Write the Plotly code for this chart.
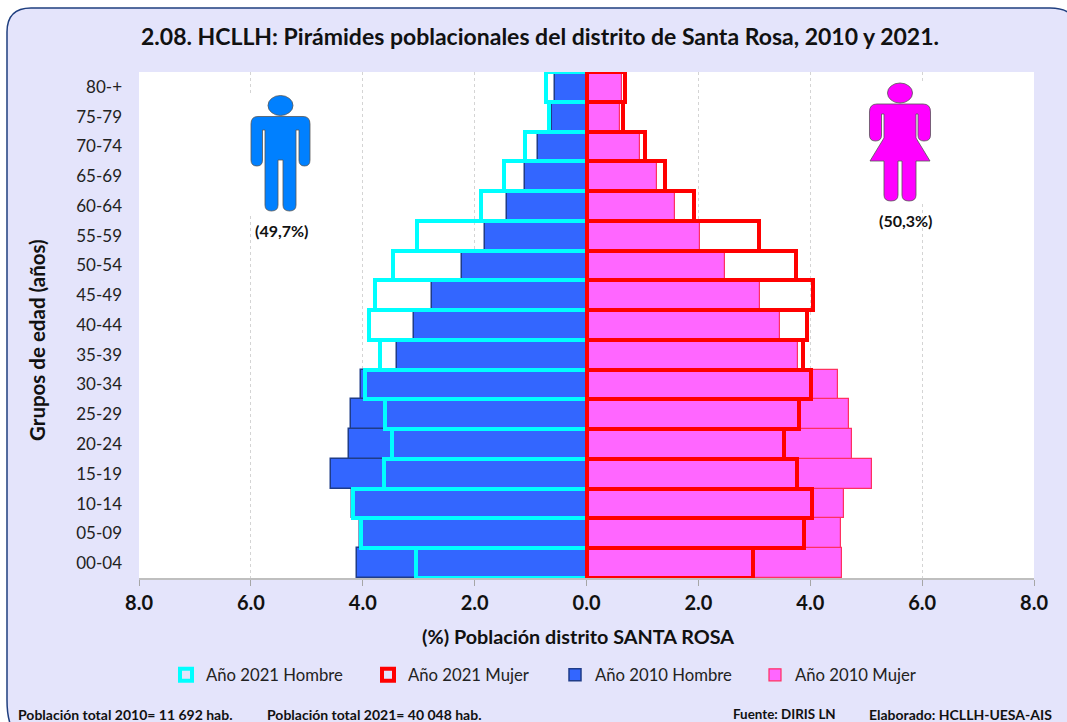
import re
import plotly.graph_objects as go

grupos = ["00-04","05-09","10-14","15-19","20-24","25-29","30-34","35-39","40-44",
          "45-49","50-54","55-59","60-64","65-69","70-74","75-79","80-+"]
h2010 = [4.10,4.05,4.19,4.57,4.25,4.21,4.03,3.39,3.08,2.76,2.23,1.81,1.42,1.10,0.87,0.62,0.56]
h2021 = [3.05,4.03,4.17,3.62,3.48,3.60,3.96,3.69,3.89,3.78,3.46,3.03,1.89,1.48,1.10,0.67,0.72]
m2010 = [4.57,4.55,4.60,5.11,4.75,4.69,4.50,3.78,3.46,3.10,2.48,2.03,1.58,1.26,0.96,0.60,0.63]
m2021 = [2.98,3.89,4.04,3.76,3.53,3.80,4.01,3.87,3.94,4.05,3.74,3.08,1.92,1.40,1.05,0.65,0.69]
tick_vals = [-8,-6,-4,-2,0,2,4,6,8]
tick_text = ["8.0","6.0","4.0","2.0","0.0","2.0","4.0","6.0","8.0"]

FONT = "Lato"
W, H = 1067, 722
L, R, T, B = 139, 1034, 72, 578

def fx(px): return (px - L) / (R - L)
def fy(py): return (B - py) / (B - T)

def conv(path):
    nums = {"i": 0}
    def rep(m):
        i = nums["i"]; nums["i"] += 1
        v = float(m.group(0))
        return f"{fx(v):.5f}" if i % 2 == 0 else f"{fy(v):.5f}"
    return re.sub(r"-?\d+\.?\d*", rep, path)

def neg(v): return [-a for a in v]

fig = go.Figure()
series = [
    ("Año 2010 Hombre", neg(h2010), "#3366FF", "#1F3C88", 1.5, "legend3"),
    ("Año 2010 Mujer", m2010, "#FF66FF", "#FF3060", 1.2, "legend4"),
    ("Año 2021 Hombre", neg(h2021), "rgba(0,0,0,0)", "#00FFFF", 4, "legend"),
    ("Año 2021 Mujer", m2021, "rgba(0,0,0,0)", "#FF0000", 4, "legend2"),
]
for name, vals, fill, line, w, lg in series:
    fig.add_trace(go.Bar(y=grupos, x=vals, orientation="h", name=name, legend=lg,
                         marker=dict(color=fill, line=dict(color=line, width=w))))

man = ("M 258 116.5 L 303 116.5 Q 310 116.5 310 124 L 310 160 Q 310 166 304.5 166 Q 299 166 299 160 "
       "L 299 130 L 296 130 L 296 205 Q 296 211 289.5 211 Q 283 211 283 205 L 283 160 L 278 160 "
       "L 278 205 Q 278 211 271.5 211 Q 265 211 265 205 L 265 130 L 262.5 130 L 262.5 160 "
       "Q 262.5 166 257 166 Q 251 166 251 160 L 251 124 Q 251 116.5 258 116.5 Z")
woman = ("M 877 104 L 923 104 Q 930.5 104 930.5 112 L 930.5 135 Q 930.5 141 924 141 Q 918 141 918 135 "
         "L 918 114 L 916 114 L 916 138 L 930 161 L 916 161 L 916 195 Q 916 201 909 201 Q 902 201 902 195 "
         "L 902 161 L 898 161 L 898 195 Q 898 201 891 201 Q 884 201 884 195 L 884 161 L 870 161 L 884 138 "
         "L 884 114 L 881.5 114 L 881.5 135 Q 881.5 141 875.5 141 Q 869.5 141 869.5 135 L 869.5 112 "
         "Q 869.5 104 877 104 Z")
panel = ("M 7 32 Q 7 8 31 8 L 1050 8 Q 1066 8 1072 16 L 1072 740 L 31 740 Q 7 740 7 700 Z")

def path(d, fill, line="rgba(0,0,0,0)", w=0, layer="above"):
    return dict(type="path", xref="paper", yref="paper", path=conv(d), fillcolor=fill,
                line=dict(color=line, width=w), layer=layer)
def rect(x0, y0, x1, y1, fill, layer="above"):
    return dict(type="rect", xref="paper", yref="paper", x0=fx(x0), x1=fx(x1), y0=fy(y0), y1=fy(y1),
                fillcolor=fill, line=dict(width=0), layer=layer)
def ell(cx, cy, rx, ry, fill):
    return dict(type="circle", xref="paper", yref="paper", x0=fx(cx-rx), x1=fx(cx+rx),
                y0=fy(cy+ry), y1=fy(cy-ry), fillcolor=fill, line=dict(color="#555555", width=0.8), layer="above")

shapes = [
    path(panel, "#E4E4FB", "#1F3F7F", 1.5, "below"),
    rect(L, T, R, B, "#FFFFFF", "below"),
    rect(240, 95, 320, 214, "#FFFFFF"),
    rect(915, 84, 930, 202, "#FFFFFF"),
    ell(280.5, 105.5, 12.5, 10, "#0080FF"),
    path(man, "#0080FF", "#555555", 0.8),
    ell(900, 93, 12.5, 10, "#FF00FF"),
    path(woman, "#FF00FF", "#555555", 0.8),
]

def ann(text, px, py, size, bold=True, angle=0, anchor="center", color="#111111"):
    return dict(text=f"<b>{text}</b>" if bold else text, xref="paper", yref="paper", x=fx(px), y=fy(py),
                xanchor=anchor, yanchor="middle", showarrow=False, textangle=angle,
                font=dict(family=FONT, size=size, color=color))

annotations = [
    ann("2.08. HCLLH: Pirámides poblacionales del distrito de Santa Rosa, 2010 y 2021.", 540, 36, 23),
    ann("(%) Población distrito SANTA ROSA", 578, 636, 19.8),
    ann("Grupos de edad (años)", 37, 340, 20.5, angle=-90),
    ann("(49,7%)", 281, 231, 16),
    ann("(50,3%)", 905, 221, 16),
    ann("Población total 2010= 11 692 hab.", 16, 714, 14, anchor="left"),
    ann("Población total 2021= 40 048 hab.", 265, 714, 14, anchor="left"),
    ann("Fuente: DIRIS LN", 731, 714, 13.4, anchor="left"),
    ann("Elaborado: HCLLH-UESA-AIS", 867, 714, 14, anchor="left"),
]

def lg(px):
    return dict(orientation="h", x=fx(px), y=fy(675), xanchor="left", yanchor="middle",
                bgcolor="rgba(0,0,0,0)", itemwidth=30, itemclick=False, itemdoubleclick=False,
                font=dict(family=FONT, size=16.7, color="#222222"))

fig.update_layout(
    width=W, height=H, autosize=False,
    margin=dict(l=L, r=W-R, t=T, b=H-B, pad=0),
    paper_bgcolor="#FFFFFF", plot_bgcolor="rgba(0,0,0,0)",
    barmode="overlay", bargap=0,
    font=dict(family=FONT),
    showlegend=True,
    legend=lg(166), legend2=lg(368), legend3=lg(555), legend4=lg(755),
    shapes=shapes, annotations=annotations,
    xaxis=dict(range=[-8, 8], tickvals=tick_vals, ticktext=tick_text, showgrid=True,
               griddash="dot", gridcolor="#D4D4D4", gridwidth=1, zeroline=False,
               ticks="outside", ticklen=6, tickcolor="#A6A6A6", tickwidth=1,
               showline=True, linecolor="#BFBFBF", linewidth=2,
               tickfont=dict(family=FONT, size=20, color="#111111", weight="bold")),
    yaxis=dict(type="category", categoryorder="array", categoryarray=grupos, showgrid=False,
               zeroline=False, ticks="", ticklabelstandoff=16,
               tickfont=dict(family=FONT, size=17, color="#222222")),
)
fig.write_html("out.html", config={"displayModeBar": False},
               post_script="document.body.style.margin='0';document.documentElement.style.overflow='hidden';")
